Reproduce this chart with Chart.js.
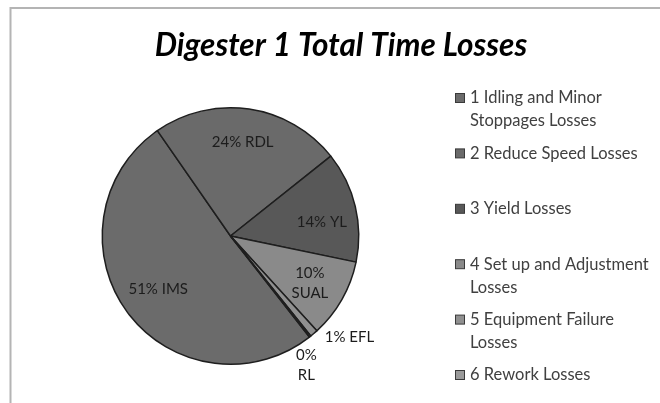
<!DOCTYPE html>
<html>
<head>
<meta charset="utf-8">
<script src="https://cdn.jsdelivr.net/npm/chart.js@4"></script>
<style>
  html, body { margin: 0; padding: 0; background: #ffffff; }
  #wrap { width: 660px; height: 403px; position: relative; }
</style>
</head>
<body>
<div id="wrap"><canvas id="c" width="660" height="403"></canvas></div>
<script>
// ---- data ----
const chartTitle = 'Digester 1 Total Time Losses';
const categories = [
  ['1 Idling and Minor', 'Stoppages Losses'],
  ['2 Reduce Speed Losses'],
  ['3 Yield Losses'],
  ['4 Set up and Adjustment', 'Losses'],
  ['5 Equipment Failure', 'Losses'],
  ['6 Rework Losses']
];
const abbreviations = ['IMS', 'RDL', 'YL', 'SUAL', 'EFL', 'RL'];
const lossValues = [51, 24, 14, 10, 1, 0.2];

// ---- styles ----
const sliceColors = ['#6b6b6b', '#6a6a6a', '#585858', '#8a8a8a', '#909090', '#9a9a9a'];
const labelWrap = [false, false, false, true, false, true];
const labelRadius = [0.70, 0.74, 0.72, 0.72, 1.22, 1.17];
const labelAngleShift = [0, -1, 5, 1, -9, 8];

const total = lossValues.reduce((a, b) => a + b, 0);

const decorPlugin = {
  id: 'decor',
  beforeDraw(chart) {
    const ctx = chart.ctx;
    ctx.save();
    ctx.fillStyle = '#ffffff';
    ctx.fillRect(0, 0, chart.width, chart.height);
    ctx.strokeStyle = '#b4b4b4';
    ctx.lineWidth = 2;
    ctx.beginPath();
    ctx.moveTo(10.5, chart.height);
    ctx.lineTo(10.5, 8);
    ctx.lineTo(chart.width, 8);
    ctx.stroke();
    ctx.restore();
  },
  afterDatasetsDraw(chart) {
    const ctx = chart.ctx;
    const meta = chart.getDatasetMeta(0);
    ctx.save();
    ctx.font = '15px Lato';
    ctx.fillStyle = '#1c1c1c';
    ctx.textAlign = 'center';
    ctx.textBaseline = 'middle';
    meta.data.forEach((arc, i) => {
      const p = arc.getProps(['x', 'y', 'startAngle', 'endAngle', 'outerRadius'], true);
      const mid = (p.startAngle + p.endAngle) / 2 + labelAngleShift[i] * Math.PI / 180;
      const r = p.outerRadius * labelRadius[i];
      const cx = p.x + Math.cos(mid) * r;
      const cy = p.y + Math.sin(mid) * r;
      const pct = Math.round(lossValues[i] / total * 100) + '%';
      const lines = labelWrap[i] ? [pct, abbreviations[i]] : [pct + ' ' + abbreviations[i]];
      const lh = 20;
      lines.forEach((t, k) => {
        ctx.fillText(t, cx, cy + (k - (lines.length - 1) / 2) * lh);
      });
    });
    ctx.restore();
  },
  afterDraw(chart) {
    const ctx = chart.ctx;
    ctx.save();
    // title
    ctx.font = 'italic bold 31.5px Lato';
    ctx.fillStyle = '#000000';
    ctx.textAlign = 'center';
    ctx.textBaseline = 'middle';
    ctx.fillText(chartTitle, 341, 46);
    // legend
    const ds = chart.data.datasets[0];
    ctx.font = '16.5px Lato';
    ctx.textAlign = 'left';
    const y0 = 98, step = 55.4, lineH = 23;
    chart.data.labels.forEach((lab, i) => {
      const y = y0 + i * step;
      ctx.fillStyle = ds.backgroundColor[i];
      ctx.fillRect(455.5, y - 4.5, 9, 9);
      ctx.strokeStyle = '#3a3a3a';
      ctx.lineWidth = 1;
      ctx.strokeRect(455.5, y - 4.5, 9, 9);
      ctx.fillStyle = '#404040';
      lab.forEach((t, k) => ctx.fillText(t, 470, y + k * lineH));
    });
    ctx.restore();
  }
};

new Chart(document.getElementById('c'), {
  type: 'pie',
  data: {
    labels: categories,
    datasets: [{
      data: lossValues,
      backgroundColor: sliceColors,
      borderColor: '#1e1e1e',
      borderWidth: 1.5,
      hoverOffset: 0
    }]
  },
  options: {
    responsive: false,
    animation: false,
    rotation: 142,
    layout: { padding: { left: 101, top: 107, right: 300, bottom: 38 } },
    plugins: {
      legend: { display: false },
      title: { display: false },
      tooltip: { enabled: false }
    },
    events: []
  },
  plugins: [decorPlugin]
});
</script>
</body>
</html>
